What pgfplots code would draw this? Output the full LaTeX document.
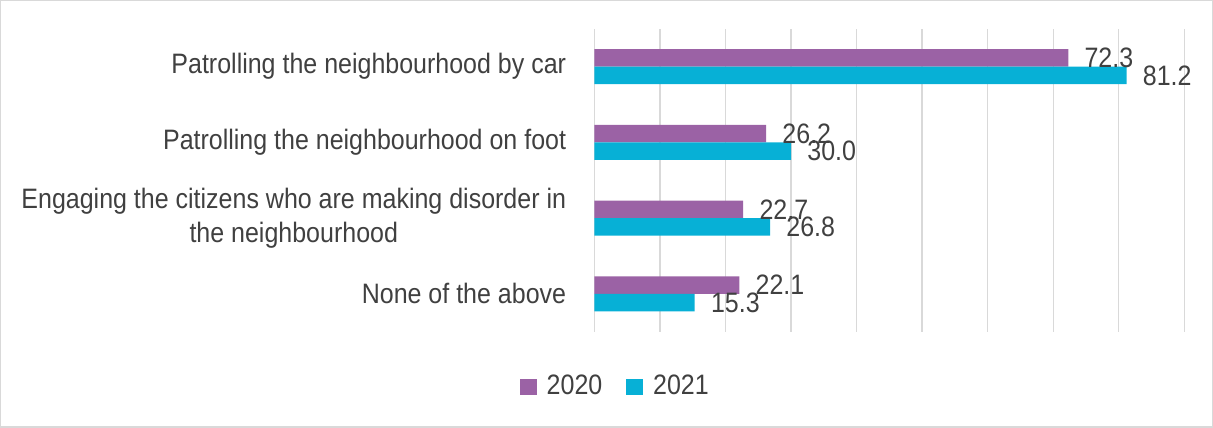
\documentclass[border=0pt]{standalone}
\usepackage{pgfplots}
\pgfplotsset{compat=1.18}
\usepackage{fontspec}
\setmainfont{Liberation Sans}[FakeStretch=0.89]
\definecolor{c2020}{HTML}{9B62A5}
\definecolor{c2021}{HTML}{07B0D6}
\definecolor{txt}{HTML}{404040}
\definecolor{gridc}{HTML}{D9D9D9}
\begin{document}
\fontsize{21}{25}\selectfont
\begin{tikzpicture}
\draw[gridc, line width=1pt] (1.5pt,-1.5pt) rectangle (907.5pt,-320.25pt);
\begin{axis}[
  at={(445.5pt,-249pt)}, anchor=south west,
  scale only axis, width=441pt, height=226.5pt,
  xmin=0, xmax=90, ymin=-0.5, ymax=3.5,
  xbar, bar width=13.1pt,
  axis line style={draw=none}, major tick length=0pt,
  xtick={0,10,...,90}, xticklabels={},
  xmajorgrids, grid style={gridc, line width=1pt},
  ytick={0,1,2,3},
  yticklabels={None of the above, {Engaging the citizens who are making disorder in\\the neighbourhood}, Patrolling the neighbourhood on foot, Patrolling the neighbourhood by car},
  yticklabel style={align=center, text=txt, inner sep=0pt, xshift=-21pt},
  point meta=x,
  nodes near coords={\pgfmathprintnumber[fixed,fixed zerofill,precision=1,assume math mode=true]{\pgfplotspointmeta}},
  nodes near coords style={anchor=west, inner sep=0pt, xshift=12pt, text=txt},
  legend entries={2020,2021},
  legend style={at={(0.036,-0.182)}, anchor=center, draw=none, legend columns=-1, text=txt,
    /tikz/every even column/.append style={column sep=16pt}},
  legend image code/.code={\fill[#1] (0pt,-6pt) rectangle (12.5pt,6pt); \path (18pt,0pt);},
]
\addplot[fill=c2020, draw=none, bar shift=6.56pt] coordinates {(22.1,0) (22.7,1) (26.2,2) (72.3,3)};
\addplot[fill=c2021, draw=none, bar shift=-6.56pt] coordinates {(15.3,0) (26.8,1) (30.0,2) (81.2,3)};
\end{axis}
\end{tikzpicture}
\end{document}
